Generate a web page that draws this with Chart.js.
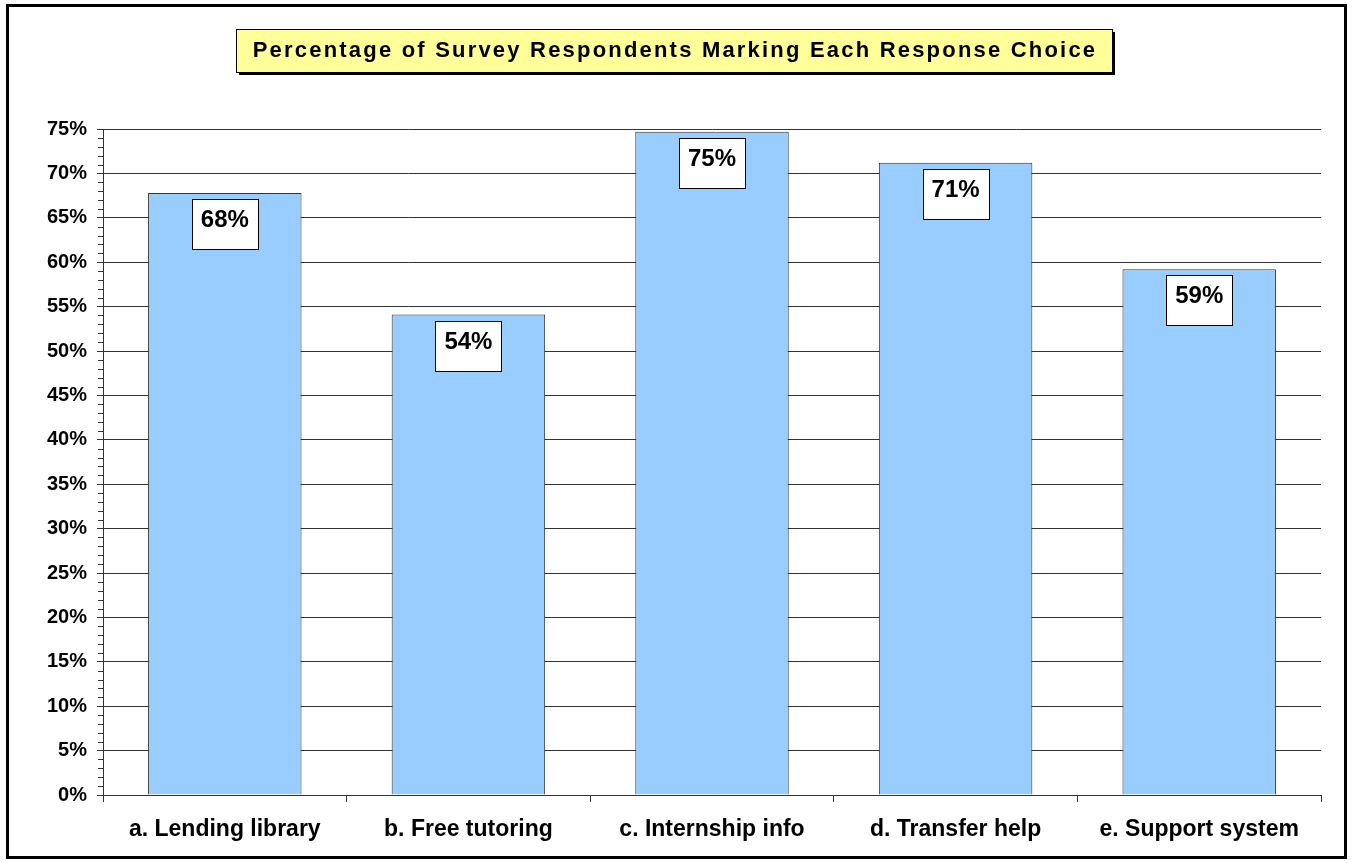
<!DOCTYPE html>
<html>
<head>
<meta charset="utf-8">
<script src="https://cdn.jsdelivr.net/npm/chart.js@4"></script>
<style>
  html, body { margin: 0; padding: 0; background: #fff; }
  #wrap { width: 1352px; height: 863px; position: relative; }
</style>
</head>
<body>
<div id="wrap"><canvas id="surveyChart" width="1352" height="863"></canvas></div>
<script>
const chartTitle = 'Percentage of Survey Respondents Marking Each Response Choice';
const categories = ['a. Lending library', 'b. Free tutoring', 'c. Internship info', 'd. Transfer help', 'e. Support system'];
const percentValues = [67.8, 54.1, 74.7, 71.2, 59.2];
const valueLabels = ['68%', '54%', '75%', '71%', '59%'];

// outer frame + title box
const framePlugin = {
    id: 'frame',
    afterDraw(chart) {
        const ctx = chart.ctx;
        ctx.save();
        ctx.strokeStyle = '#000';
        ctx.lineWidth = 3;
        ctx.strokeRect(7.5, 5.5, 1338, 852);

        // title box with shadow
        ctx.fillStyle = '#000';
        ctx.fillRect(239, 32, 876, 43);
        ctx.fillStyle = '#FFFF99';
        ctx.fillRect(236, 29, 876, 43);
        ctx.lineWidth = 1;
        ctx.strokeRect(236.5, 29.5, 876, 43);
        ctx.fillStyle = '#000';
        ctx.font = 'bold 22px "Liberation Sans", Arial, sans-serif';
        ctx.letterSpacing = '2.2px';
        ctx.textAlign = 'center';
        ctx.textBaseline = 'middle';
        ctx.fillText(chartTitle, 675, 51);
        ctx.restore();
    }
};

// minor ticks on the y axis (every 1%)
const minorTicksPlugin = {
    id: 'minorTicks',
    afterDraw(chart) {
        const ctx = chart.ctx;
        const y = chart.scales.y;
        const left = chart.chartArea.left;
        ctx.save();
        ctx.strokeStyle = '#333';
        ctx.lineWidth = 1;
        for (let v = 0; v <= 75; v++) {
            if (v % 5 === 0) continue;
            const py = Math.round(y.getPixelForValue(v)) + 0.5;
            ctx.beginPath();
            ctx.moveTo(left - 5, py);
            ctx.lineTo(left, py);
            ctx.stroke();
        }
        ctx.restore();
    }
};

// white boxed value labels inside the top of each bar
const valueBoxPlugin = {
    id: 'valueBoxes',
    afterDatasetsDraw(chart) {
        const ctx = chart.ctx;
        const meta = chart.getDatasetMeta(0);
        ctx.save();
        ctx.font = 'bold 24px "Liberation Sans", Arial, sans-serif';
        ctx.textAlign = 'center';
        ctx.textBaseline = 'middle';
        meta.data.forEach((bar, i) => {
            const w = 66, h = 50;
            const bx = Math.round(bar.x - w / 2) + 0.5;
            const by = Math.round(bar.y + 6) + 0.5;
            ctx.fillStyle = '#fff';
            ctx.fillRect(bx, by, w, h);
            ctx.strokeStyle = '#000';
            ctx.lineWidth = 1;
            ctx.strokeRect(bx, by, w, h);
            ctx.fillStyle = '#000';
            ctx.fillText(valueLabels[i], bar.x, by + 21);
        });
        ctx.restore();
    }
};

const ctx = document.getElementById('surveyChart').getContext('2d');
window.chart = new Chart(ctx, {
    type: 'bar',
    data: {
        labels: categories,
        datasets: [{
            data: percentValues,
            backgroundColor: '#99CCFF',
            borderColor: '#333',
            borderWidth: 1,
            categoryPercentage: 1,
            barPercentage: 0.63
        }]
    },
    options: {
        responsive: false,
        animation: false,
        devicePixelRatio: 1,
        layout: { padding: { left: 10, right: 31, top: 129, bottom: 0 } },
        plugins: {
            legend: { display: false },
            title: { display: false },
            tooltip: { enabled: false }
        },
        scales: {
            x: {
                grid: {
                    offset: true,
                    drawOnChartArea: false,
                    tickLength: 7,
                    color: '#333'
                },
                border: { color: '#333' },
                ticks: {
                    color: '#000',
                    padding: 14,
                    font: { family: '"Liberation Sans", Arial, sans-serif', size: 23, weight: 'bold' },
                    maxRotation: 0
                },
                afterFit(scale) { scale.height = 68; }
            },
            y: {
                min: 0,
                max: 75,
                ticks: {
                    stepSize: 5,
                    color: '#000',
                    padding: 10,
                    font: { family: '"Liberation Sans", Arial, sans-serif', size: 20, weight: 'bold' },
                    callback: v => v + '%'
                },
                grid: { color: '#333', tickLength: 6 },
                border: { color: '#333' },
                afterFit(scale) { scale.width = 93; }
            }
        }
    },
    plugins: [framePlugin, minorTicksPlugin, valueBoxPlugin]
});
</script>
</body>
</html>
